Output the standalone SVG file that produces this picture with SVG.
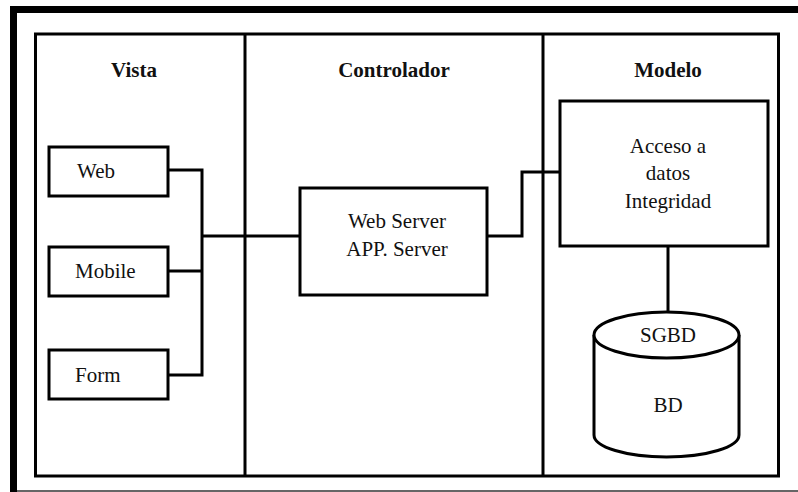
<svg xmlns="http://www.w3.org/2000/svg" width="798" height="492" viewBox="0 0 798 492">
<style>
.box{fill:#fff;stroke:#000;stroke-width:3}
.ln{fill:none;stroke:#000;stroke-width:3}
text{font-family:'Liberation Serif','Times New Roman','DejaVu Serif',serif;font-size:21px;fill:#111}
.h{font-weight:bold;text-anchor:middle}
.c{text-anchor:middle}
</style>
<rect width="798" height="492" fill="#fff"/>
<g id="frame">
<rect x="10" y="6" width="788" height="7" fill="#000"/>
<rect x="10" y="6" width="7" height="486" fill="#000"/>
<line x1="17" y1="491" x2="798" y2="491" stroke="#333" stroke-width="1.5"/>
</g>
<g id="lanes">
<rect x="35.5" y="34" width="743" height="442" class="box"/>
<line x1="245" y1="34" x2="245" y2="476" class="ln"/>
<line x1="543" y1="34" x2="543" y2="476" class="ln"/>
<text x="134" y="77" class="h">Vista</text>
<text x="394" y="77" class="h">Controlador</text>
<text x="668" y="77" class="h">Modelo</text>
</g>
<g id="connectors">
<polyline points="168,170 202,170 202,375 168,375" class="ln"/>
<line x1="168" y1="271" x2="202" y2="271" class="ln"/>
<line x1="202" y1="236" x2="300" y2="236" class="ln"/>
<polyline points="487,236 522,236 522,172 560,172" class="ln"/>
<line x1="668" y1="246" x2="668" y2="312" class="ln"/>
</g>
<g id="web">
<rect x="49" y="147" width="119" height="49" class="box"/>
<text x="77" y="178">Web</text>
</g>
<g id="mobile">
<rect x="49" y="247" width="119" height="49" class="box"/>
<text x="75" y="278">Mobile</text>
</g>
<g id="form">
<rect x="49" y="350" width="119" height="49" class="box"/>
<text x="75" y="382">Form</text>
</g>
<g id="server">
<rect x="300" y="188" width="187" height="107" class="box"/>
<text x="397" y="228" class="c">Web Server</text>
<text x="397" y="256" class="c">APP. Server</text>
</g>
<g id="acceso">
<rect x="560" y="101" width="208" height="145" class="box"/>
<text x="668" y="153" class="c">Acceso a</text>
<text x="668" y="180" class="c">datos</text>
<text x="668" y="208" class="c">Integridad</text>
</g>
<g id="bd">
<path d="M594,335 L594,435 A72.5,22 0 0 0 739,435 L739,335" class="box"/>
<ellipse cx="666.5" cy="335" rx="72.5" ry="23" class="box"/>
<text x="668" y="342" class="c">SGBD</text>
<text x="668" y="412" class="c">BD</text>
</g>
</svg>
